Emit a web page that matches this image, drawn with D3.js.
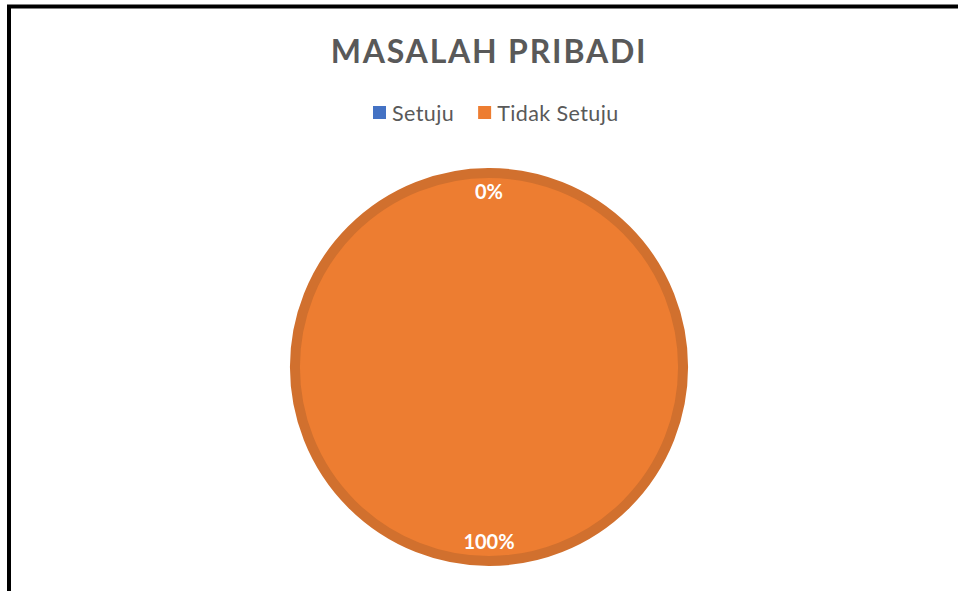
<!DOCTYPE html>
<html>
<head>
<meta charset="utf-8">
<script src="https://cdn.jsdelivr.net/npm/d3@7"></script>
<style>
  body { margin: 0; background: #fff; }
  svg { display: block; font-family: Lato, "Open Sans", sans-serif; }
</style>
</head>
<body>
<script>
//// DATA
var categories = ["Setuju", "Tidak Setuju"];
var values = [0, 100];
var colors = ["#4472C4", "#ED7D31"];
var title = "MASALAH PRIBADI";

// Dimensions
var width = 958, height = 591;
var cx = 489, cy = 367, radius = 199;

var svg = d3.select("body").append("svg")
    .attr("width", width)
    .attr("height", height);

// Chart frame (runs past the right and bottom of the view)
svg.append("rect")
    .attr("x", 9)
    .attr("y", 6.5)
    .attr("width", 1000)
    .attr("height", 700)
    .attr("fill", "#fff")
    .attr("stroke", "#000")
    .attr("stroke-width", 4);

// Title
svg.append("text")
    .attr("x", cx)
    .attr("y", 63)
    .attr("text-anchor", "middle")
    .attr("font-size", 32)
    .attr("font-weight", "bold")
    .attr("letter-spacing", 1.8)
    .attr("fill", "#595959")
    .text(title);

// Legend
var legend = svg.append("g").attr("transform", "translate(373,114)");
var xOff = 0;
categories.forEach(function(c, i) {
    var g = legend.append("g").attr("transform", "translate(" + xOff + ",0)");
    g.append("rect")
        .attr("x", 0).attr("y", -8)
        .attr("width", 13).attr("height", 13)
        .attr("fill", colors[i]);
    var t = g.append("text")
        .attr("x", 19).attr("y", 7)
        .attr("font-size", 21.5)
        .attr("letter-spacing", 0.4)
        .attr("fill", "#595959")
        .text(c);
    xOff += 19 + t.node().getComputedTextLength() + 24;
});

// Pie
var pie = d3.pie().sort(null).value(function(d) { return d; });
var arcs = pie(values);
var arc = d3.arc().innerRadius(0).outerRadius(radius - 5);
var labelArc = d3.arc().innerRadius(175).outerRadius(175);

var g = svg.append("g").attr("transform", "translate(" + cx + "," + cy + ")");

g.selectAll("path.slice")
    .data(arcs)
  .enter().append("path")
    .attr("class", "slice")
    .attr("d", arc)
    .attr("fill", function(d, i) { return colors[i]; })
    .attr("stroke", "#D1702E")
    .attr("stroke-width", 10)
    .attr("stroke-linejoin", "round");

g.selectAll("text.label")
    .data(arcs)
  .enter().append("text")
    .attr("class", "label")
    .attr("transform", function(d) { return "translate(" + labelArc.centroid(d) + ")"; })
    .attr("text-anchor", "middle")
    .attr("dy", "0.35em")
    .attr("font-size", 20)
    .attr("font-weight", "bold")
    .attr("fill", "#fff")
    .text(function(d) { return d3.format(".0%")(d.value / d3.sum(values)); });
</script>
</body>
</html>
